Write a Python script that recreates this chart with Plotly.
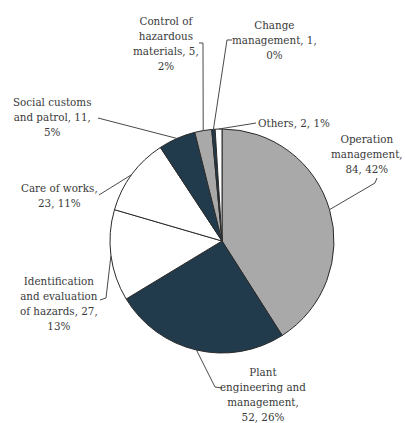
import math
import plotly.graph_objects as go

# Accident causes: counts and stated shares
categories = [
    "Operation management",
    "Plant engineering and management",
    "Identification and evaluation of hazards",
    "Care of works",
    "Social customs and patrol",
    "Control of hazardous materials",
    "Change management",
    "Others",
]
counts = [84, 52, 27, 23, 11, 5, 1, 2]
shares = ["42%", "26%", "13%", "11%", "5%", "2%", "0%", "1%"]

# Multi-line label text for each category
label_lines = [
    ["Operation", "management,", "{c}, {s}"],
    ["Plant", "engineering and", "management,", "{c}, {s}"],
    ["Identification", "and evaluation", "of hazards, {c},", "{s}"],
    ["Care of works,", "{c}, {s}"],
    ["Social customs", "and patrol, {c},", "{s}"],
    ["Control of", "hazardous", "materials, {c},", "{s}"],
    ["Change", "management, {c},", "{s}"],
    ["Others, {c}, {s}"],
]

GREY = "#a9a9a9"
NAVY = "#223b4c"
WHITE = "#ffffff"
slice_colors = [GREY, NAVY, WHITE, WHITE, NAVY, GREY, NAVY, WHITE]

W, H = 405, 423
CX, CY, R = 222, 241, 112  # pie centre and radius in pixels
FONT = "DejaVu Serif Condensed, DejaVu Serif"
FONT_SIZE = 11.5


def px(x, y):
    """Pixel position -> paper coordinates."""
    return x / W, 1 - y / H


# Label anchor (pixel centre), anchor side, and leader elbow points
label_layout = [
    dict(pos=(367, 154), anchor="center", elbow=[(375, 183), (377, 178)]),
    dict(pos=(263, 394), anchor="center", elbow=[(215, 387), (222, 388)]),
    dict(pos=(59, 303), anchor="center", elbow=[(106, 298), (100, 300)]),
    dict(pos=(59, 195), anchor="center", elbow=[(99, 195)]),
    dict(pos=(52, 117), anchor="center", elbow=[(98, 118)]),
    dict(pos=(166, 43), anchor="center", elbow=[(203, 43), (199, 43)]),
    dict(pos=(274, 40), anchor="center", elbow=[(227, 40), (232, 40)]),
    dict(pos=(257, 123), anchor="left", elbow=[(250, 124), (256, 123)]),
]

fig = go.Figure(
    go.Pie(
        labels=categories,
        values=counts,
        sort=False,
        direction="clockwise",
        rotation=0,
        textinfo="none",
        hoverinfo="label+value",
        marker=dict(colors=slice_colors, line=dict(color="#2a2a2a", width=1)),
        domain=dict(x=[(CX - R) / W, (CX + R) / W], y=[1 - (CY + R) / H, 1 - (CY - R) / H]),
        showlegend=False,
    )
)

total = sum(counts)
annotations = []
shapes = []
cum = 0
for i, c in enumerate(counts):
    mid = (cum + c / 2) / total * 2 * math.pi
    cum += c
    # point on the rim at the slice's mid angle
    ex = CX + R * math.sin(mid)
    ey = CY - R * math.cos(mid)
    pts = [(ex, ey)] + label_layout[i]["elbow"]
    path = ""
    for j, (x, y) in enumerate(pts):
        qx, qy = px(x, y)
        path += ("M" if j == 0 else "L") + f"{qx:.5f},{qy:.5f} "
    shapes.append(dict(type="path", xref="paper", yref="paper", path=path.strip(),
                       line=dict(color="#4a4a4a", width=1)))

    text = "<br>".join(l.format(c=c, s=shares[i]) for l in label_lines[i])
    ax, ay = px(*label_layout[i]["pos"])
    annotations.append(dict(
        x=ax, y=ay, xref="paper", yref="paper", text=text, showarrow=False,
        xanchor=label_layout[i]["anchor"], yanchor="middle", align="center",
        borderpad=0,
        font=dict(family=FONT, size=FONT_SIZE, color="#3a3a3a"),
    ))

fig.update_layout(
    width=W, height=H,
    margin=dict(l=0, r=0, t=0, b=0),
    paper_bgcolor="white",
    plot_bgcolor="white",
    font=dict(family=FONT),
    annotations=annotations,
    shapes=shapes,
)

fig.write_html("out.html")
